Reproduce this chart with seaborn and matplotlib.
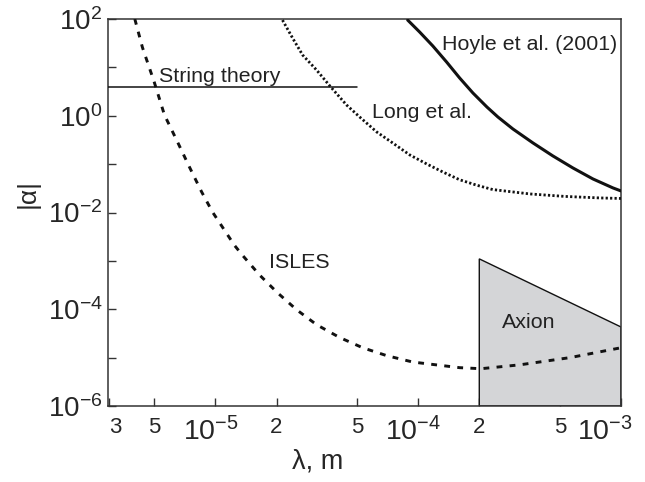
import numpy as np
import pandas as pd
import matplotlib
matplotlib.use("Agg")
import matplotlib.pyplot as plt
import matplotlib.transforms as mtransforms
from matplotlib.ticker import FixedLocator, NullLocator, NullFormatter
import seaborn as sns

# ---------------- data ----------------
isles_lam = [4.0e-6, 4.36e-6, 5.0e-6, 5.6e-6, 6.49e-6, 7.44e-6, 8.53e-6, 9.67e-6,
             1.24e-5, 1.36e-5, 1.65e-5, 2.02e-5, 2.51e-5, 3.15e-5, 4.1e-5, 5.32e-5,
             6.98e-5, 9.4e-5, 1.6e-4, 2.04e-4, 3.17e-4, 5.6e-4, 1.0e-3]
isles_alpha = [100, 26, 4.8, 1.04, 0.29, 0.087, 0.027, 0.0102,
               2.1e-3, 1.3e-3, 5.1e-4, 2.2e-4, 9.8e-5, 4.8e-5, 2.6e-5, 1.6e-5,
               1.1e-5, 8.1e-6, 6.2e-6, 5.9e-6, 7.1e-6, 1.0e-5, 1.6e-5]

long_lam = [2.14e-5, 2.4e-5, 2.69e-5, 3.15e-5, 3.7e-5, 4.43e-5, 5.14e-5, 6.24e-5,
            7.48e-5, 9.08e-5, 1.10e-4, 1.32e-4, 1.60e-4, 1.95e-4, 2.33e-4,
            3.55e-4, 5.29e-4, 7.87e-4, 1.0e-3]
long_alpha = [95, 40.4, 18.0, 8.83, 3.94, 1.67, 0.944, 0.462,
              0.274, 0.155, 0.101, 0.069, 0.0475, 0.0365, 0.0298,
              0.0242, 0.0215, 0.0200, 0.0195]

hoyle_lam = [8.87e-5, 1.016e-4, 1.18e-4, 1.38e-4, 1.6e-4, 1.86e-4, 2.18e-4, 2.47e-4,
             2.93e-4, 3.68e-4, 4.61e-4, 5.79e-4, 7.27e-4, 9.13e-4, 1.0e-3]
hoyle_alpha = [95, 53.8, 27.7, 12.9, 6.04, 2.96, 1.52, 0.944,
               0.533, 0.274, 0.148, 0.0834, 0.0494, 0.0322, 0.0279]

string_lam = [2.95e-6, 5.0e-5]
string_alpha = [3.9, 3.9]

axion_lam = [2.0e-4, 2.0e-4, 1.0e-3, 1.0e-3]
axion_alpha = [1.0e-6, 1.1e-3, 4.3e-5, 1.0e-6]

xtick_vals = [3e-6, 5e-6, 1e-5, 2e-5, 5e-5, 1e-4, 2e-4, 5e-4, 1e-3]
xtick_labels = ["3", "5", r"$10^{-5}$", "2", "5", r"$10^{-4}$", "2", "5", r"$10^{-3}$"]
ytick_vals = [1e-6, 1e-5, 1e-4, 1e-3, 1e-2, 1e-1, 1e0, 1e1, 1e2]
ytick_labels = [r"$10^{-6}$", "", r"$10^{-4}$", "", r"$10^{-2}$", "", r"$10^{0}$", "", r"$10^{2}$"]

labels_text = ["String theory", "Hoyle et al. (2001)", "Long et al.", "ISLES", "Axion"]
labels_x = [5.29e-6, 1.31e-4, 5.9e-5, 1.83e-5, 2.58e-4]
labels_y = [5.0, 22.9, 0.92, 7.2e-4, 4.1e-5]

# ---------------- style ----------------
sns.set_style("ticks")
plt.rcParams["font.family"] = ["Liberation Sans", "DejaVu Sans"]
plt.rcParams["mathtext.fontset"] = "custom"
plt.rcParams["mathtext.rm"] = "Liberation Sans"
plt.rcParams["mathtext.it"] = "Liberation Sans:italic"
plt.rcParams["mathtext.default"] = "regular"

fig = plt.figure(figsize=(6.45, 4.82), dpi=100)
fig.subplots_adjust(left=108/645, right=621/645, top=1-19/482, bottom=1-406/482)
ax = fig.add_subplot(111)

df_isles = pd.DataFrame({"lam": isles_lam, "alpha": isles_alpha})
df_long = pd.DataFrame({"lam": long_lam, "alpha": long_alpha})
df_hoyle = pd.DataFrame({"lam": hoyle_lam, "alpha": hoyle_alpha})
df_string = pd.DataFrame({"lam": string_lam, "alpha": string_alpha})

ax.fill(axion_lam, axion_alpha, facecolor="#d4d5d7", edgecolor="#111111", lw=1.0, zorder=1)

sns.lineplot(data=df_isles, x="lam", y="alpha", ax=ax, color="#111111", lw=2.1,
             linestyle=(0, (2.0, 2.5)), estimator=None, sort=False, zorder=3)
sns.lineplot(data=df_long, x="lam", y="alpha", ax=ax, color="#111111", lw=2.0,
             linestyle=(0, (0.8, 0.8)), estimator=None, sort=False, zorder=3)
sns.lineplot(data=df_hoyle, x="lam", y="alpha", ax=ax, color="#111111", lw=2.2,
             estimator=None, sort=False, zorder=3)
sns.lineplot(data=df_string, x="lam", y="alpha", ax=ax, color="#111111", lw=1.1,
             estimator=None, sort=False, zorder=3)

ax.set_xscale("log")
ax.set_yscale("log")
ax.set_xlim(2.95e-6, 1.0e-3)
ax.set_ylim(1e-6, 1e2)

ax.xaxis.set_major_locator(FixedLocator(xtick_vals))
ax.xaxis.set_minor_locator(NullLocator())
ax.xaxis.set_minor_formatter(NullFormatter())
ax.set_xticks(xtick_vals)
ax.set_xticklabels(xtick_labels)
ax.yaxis.set_minor_locator(NullLocator())
ax.yaxis.set_minor_formatter(NullFormatter())
ax.set_yticks(ytick_vals)
ax.set_yticklabels(ytick_labels)

ax.tick_params(axis="both", direction="in", length=6, width=1.0, color="#333333")
ax.tick_params(axis="x", pad=8)
ax.tick_params(axis="y", pad=4, labelsize=20)

x_shift_px = {"3": 6, r"$10^{-5}$": -5, r"$10^{-4}$": -5, r"$10^{-3}$": -16}
for lbl in ax.get_xticklabels():
    txt = lbl.get_text()
    lbl.set_fontsize(20.5 if "10" in txt else 16)
    dx = x_shift_px.get(txt, 0)
    if dx:
        off = mtransforms.ScaledTranslation(dx / 100, 0, fig.dpi_scale_trans)
        lbl.set_transform(lbl.get_transform() + off)

for sp in ax.spines.values():
    sp.set_visible(True)
    sp.set_linewidth(1.1)
    sp.set_color("#333333")

ax.set_xlabel("")
ax.set_ylabel("")
fig.text(28/645, 1-193/482, "|α|", rotation=90, ha="center", va="center", fontsize=19)
fig.text(318/645, 1-462/482, "λ, m", ha="center", va="center", fontsize=19.5)

for t, x, y in zip(labels_text, labels_x, labels_y):
    ax.text(x, y, t, ha="left", va="baseline", fontsize=15.4, color="#222222", zorder=4)

fig.savefig("out.png", dpi=100)
